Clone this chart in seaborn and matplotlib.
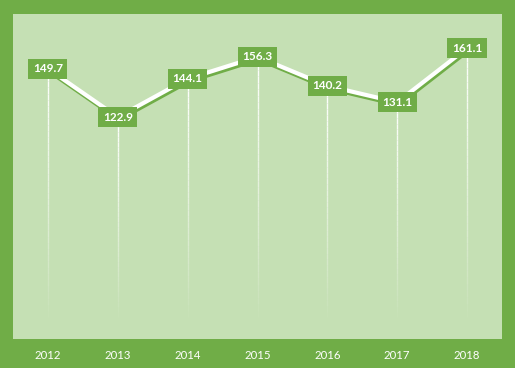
import matplotlib
matplotlib.use("Agg")
import matplotlib.pyplot as plt
import matplotlib.patheffects as pe
import seaborn as sns
import numpy as np
import pandas as pd

years = ["2012", "2013", "2014", "2015", "2016", "2017", "2018"]
values = [149.7, 122.9, 144.1, 156.3, 140.2, 131.1, 161.1]

GREEN = "#70AD47"
LIGHT = "#C5E0B4"

sns.set_theme(style="white")
plt.rcParams['font.family'] = ['Lato', 'DejaVu Sans']

fig = plt.figure(figsize=(5.15, 3.68), dpi=100, facecolor=GREEN)
ax = fig.add_axes([13/515, 29/368, 489/515, 325/368])
ax.set_facecolor(LIGHT)

df = pd.DataFrame({"pos": np.arange(len(years)), "value": values})

# fading drop lines
n = 40
for x, v in zip(df["pos"], df["value"]):
    bottom = 12
    edges = np.linspace(v, bottom, n + 1)
    for i in range(n):
        a = 1.0 * (1 - i / n) ** 0.9
        ax.plot([x, x], [edges[i], edges[i + 1]], color="white", lw=1.0,
                alpha=a, solid_capstyle="butt", zorder=1)

sns.lineplot(data=df, x="pos", y="value", ax=ax, color="white", lw=3.0, zorder=3,
             path_effects=[pe.SimpleLineShadow(offset=(0.8, -1.8), shadow_color=GREEN, alpha=1.0, rho=1),
                           pe.Normal()])

for x, v in zip(df["pos"], df["value"]):
    ax.text(x, v, f"{v:.1f}", ha="center", va="center", color="white", fontsize=8.5,
            fontweight="bold", zorder=5,
            bbox=dict(boxstyle="square,pad=0.38", fc=GREEN, ec="none"))

ax.set_xlim(-0.5, len(years) - 0.5)
ax.set_ylim(0, 180)
ax.set_xticks(df["pos"])
ax.set_xticklabels(years, color="white", fontsize=8.2)
ax.tick_params(axis="x", length=0, pad=8)
ax.set_yticks([])
ax.set_xlabel("")
ax.set_ylabel("")
for s in ax.spines.values():
    s.set_visible(False)

fig.savefig("out.png", dpi=100, facecolor=GREEN)
